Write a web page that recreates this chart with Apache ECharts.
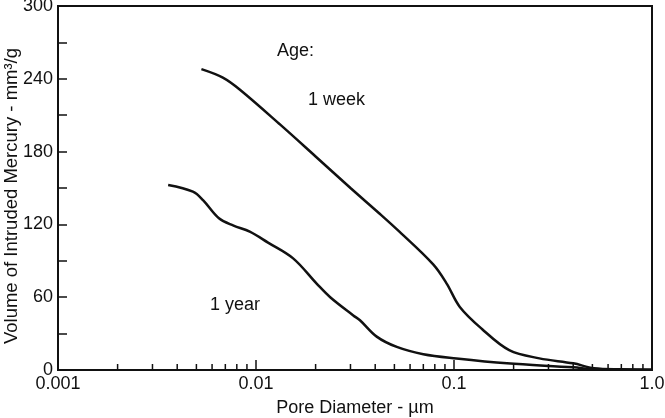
<!DOCTYPE html>
<html>
<head>
<meta charset="utf-8">
<script src="https://cdn.jsdelivr.net/npm/echarts@6/dist/echarts.min.js"></script>
<style>
  html, body { margin: 0; padding: 0; background: #fff; }
  #chart { width: 665px; height: 418px; }
</style>
</head>
<body>
<div id="chart"></div>
<script>
// pore diameter (µm) and intruded volume (mm3/g)
var weekX = [0.0053, 0.0068, 0.0083, 0.0133, 0.02, 0.03, 0.042, 0.053, 0.0785, 0.092, 0.107, 0.138, 0.19, 0.27, 0.4, 0.51, 0.7, 1.0];
var weekY = [248, 241, 231, 202, 176, 150, 129, 114, 87, 71, 52, 34, 16.4, 9.6, 5.5, 1.5, 0.6, 0.3];

var yearX = [0.0036, 0.0048, 0.0054, 0.0065, 0.0077, 0.0093, 0.0115, 0.0154, 0.0203, 0.0237, 0.031, 0.0335, 0.0407, 0.0514, 0.07, 0.103, 0.185, 0.4, 0.51, 1.0];
var yearY = [152.5, 147, 140, 125, 119, 114, 105, 92, 71, 60, 45, 41, 27.5, 19, 13, 9.5, 5.5, 2.2, 0.7, 0.3];

var xTickLabels = ['0.001', '0.01', '0.1', '1.0'];
var minorTicks = [0.002, 0.003, 0.004, 0.005, 0.006, 0.007, 0.008, 0.009,
                  0.02, 0.03, 0.04, 0.05, 0.06, 0.07, 0.08, 0.09,
                  0.2, 0.3, 0.4, 0.5, 0.6, 0.7, 0.8, 0.9];

var FONT = '"Liberation Sans", Arial, Helvetica, sans-serif';
var INK = '#111';

function pairs(xs, ys) {
    return xs.map(function (x, i) { return [x, ys[i]]; });
}

var myChart = echarts.init(document.getElementById('chart'));
var option = {
    animation: false,
    grid: {
        left: 58,
        right: 13,
        top: 6,
        bottom: 48,
        show: true,
        borderColor: INK,
        borderWidth: 2,
        outerBoundsMode: 'none',
        containLabel: false
    },
    xAxis: {
        type: 'log',
        logBase: 10,
        min: 0.001,
        max: 1,
        splitNumber: 3,
        name: 'Pore Diameter - µm',
        nameLocation: 'middle',
        nameGap: 29,
        nameTextStyle: { fontFamily: FONT, fontSize: 18, color: INK },
        axisLine: { lineStyle: { color: INK, width: 2 } },
        axisTick: { inside: true, length: 10, lineStyle: { color: INK, width: 1.5 } },
        axisLabel: {
            fontFamily: FONT, fontSize: 18, color: INK, margin: 5,
            showMinLabel: true, showMaxLabel: true,
            formatter: function (v) {
                var i = Math.round(Math.log10(v)) + 3;
                return xTickLabels[i] || '';
            }
        },
        splitLine: { show: false }
    },
    yAxis: {
        type: 'value',
        min: 0,
        max: 300,
        interval: 60,
        name: 'Volume of Intruded Mercury - mm³/g',
        nameLocation: 'middle',
        nameGap: 37,
        nameMoveOverlap: false,
        nameTextStyle: { fontFamily: FONT, fontSize: 18.5, color: INK, padding: [0, 16, 0, 0] },
        axisLine: { show: true, lineStyle: { color: INK, width: 2 } },
        axisTick: { inside: true, length: 9, lineStyle: { color: INK, width: 1.5 } },
        minorTick: { show: true, splitNumber: 2, length: 9, lineStyle: { color: INK, width: 1.5 } },
        axisLabel: { fontFamily: FONT, fontSize: 18, color: INK, margin: 5 },
        splitLine: { show: false }
    },
    graphic: [
        { type: 'text', x: 277, y: 51, style: { text: 'Age:', font: '18px ' + FONT, fill: INK, verticalAlign: 'middle' } },
        { type: 'text', x: 308, y: 100, style: { text: '1 week', font: '18px ' + FONT, fill: INK, verticalAlign: 'middle' } },
        { type: 'text', x: 210, y: 305, style: { text: '1 year', font: '18px ' + FONT, fill: INK, verticalAlign: 'middle' } }
    ],
    series: [
        {
            name: '1 week',
            type: 'line',
            data: pairs(weekX, weekY),
            smooth: 0.35,
            showSymbol: false,
            lineStyle: { color: INK, width: 2.5 }
        },
        {
            name: '1 year',
            type: 'line',
            data: pairs(yearX, yearY),
            smooth: 0.35,
            showSymbol: false,
            lineStyle: { color: INK, width: 2.5 }
        },
        {
            // minor log ticks along the bottom axis
            type: 'custom',
            silent: true,
            clip: false,
            data: minorTicks.map(function (v) { return [v, 0]; }),
            renderItem: function (params, api) {
                var p = api.coord([api.value(0), 0]);
                return {
                    type: 'line',
                    shape: { x1: p[0], y1: p[1], x2: p[0], y2: p[1] - 6 },
                    style: { stroke: INK, lineWidth: 1.5 }
                };
            }
        }
    ]
};
myChart.setOption(option);
</script>
</body>
</html>
